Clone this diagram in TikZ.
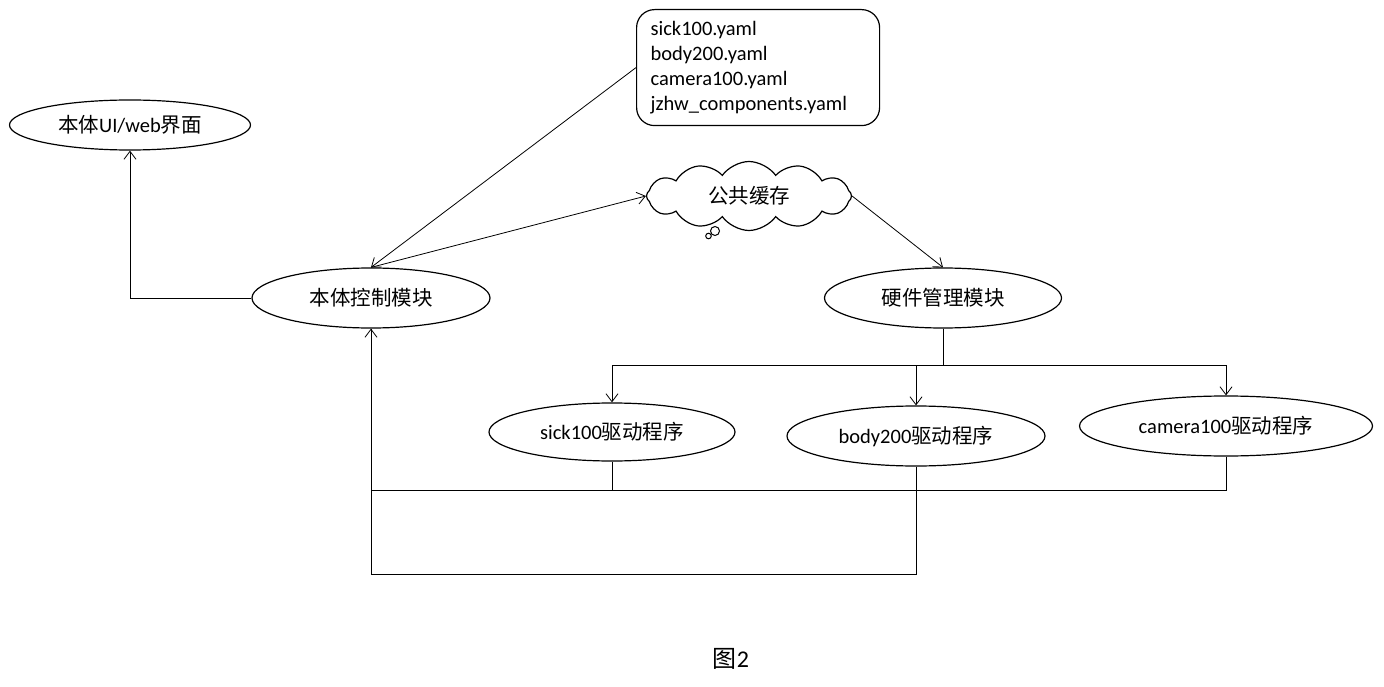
\documentclass[tikz,border=0pt]{standalone}
\usepackage{fontspec}
\setmainfont{Carlito}
\newfontfamily\cjk{Noto Sans CJK SC}
\usetikzlibrary{shapes.geometric,shapes.symbols,arrows.meta}
\newcommand{\zh}[1]{{\cjk #1}}

\begin{document}
\begin{tikzpicture}[x=1pt,y=-1pt,
  oval/.style={ellipse, draw, line width=1.2pt, inner sep=0pt,
               font=\fontsize{20.5}{24}\selectfont},
  conn/.style={draw, line width=0.8pt, -{Straight Barb[length=8pt,width=12pt]}},
  wire/.style={draw, line width=0.8pt}]
\useasboundingbox (0,0) rectangle (1384,687);

% modules
\node[oval, minimum width=241, minimum height=50] (ui)  at (130,125) {\zh{本体}UI/web\zh{界面}};
\node[oval, minimum width=238, minimum height=60] (ctl) at (371,298) {\zh{本体控制模块}};
\node[oval, minimum width=237, minimum height=60] (hw)  at (943,298) {\zh{硬件管理模块}};

% drivers
\node[oval, minimum width=246, minimum height=58] (sick) at (612,432) {sick100\zh{驱动程序}};
\node[oval, minimum width=258, minimum height=60] (body) at (916,436) {body200\zh{驱动程序}};
\node[oval, minimum width=293, minimum height=60] (cam)  at (1226,426) {camera100\zh{驱动程序}};

% configuration files
\node[draw, rounded corners=18pt, line width=1.2pt, anchor=north west,
      minimum width=240, minimum height=116, text width=215, inner xsep=14,
      align=left, font=\fontsize{20.5}{25}\selectfont] (yaml) at (636,9)
  {sick100.yaml\\body200.yaml\\camera100.yaml\\jzhw\_components.yaml};

% shared cache
\node[cloud, draw, line width=1.2pt, cloud puffs=12, cloud puff arc=110,
      aspect=3.2, minimum width=205, minimum height=54, inner xsep=0pt, inner ysep=8pt,
      font=\fontsize{20.5}{24}\selectfont] (cache) at (749,196) {\zh{公共缓存}};
\draw[line width=1pt] (715,231) circle (4.5);
\draw[line width=1pt] (708.5,236) circle (2.8);

% connectors
\draw[conn] (ctl.west) -| (ui.south);
\draw[conn] (yaml.west) -- (ctl.north);
\draw[conn] (ctl.north) -- (cache.west);
\draw[conn] (cache.east) -- (hw.north);

\draw[conn] (hw.south) -- ++(0,37) -| (sick.north);
\draw[conn] (hw.south) -- ++(0,37) -| (body.north);
\draw[conn] (hw.south) -- ++(0,37) -| (cam.north);

\coordinate (ret1) at (371,490);
\coordinate (ret2) at (371,574);
\draw[wire] (sick.south) |- (ret1);
\draw[wire] (cam.south) |- (ret1);
\draw[conn] (body.south) |- (ret2) -- (ctl.south);
\draw[wire] (ret1) -- (ctl.south);

% caption
\node[font=\fontsize{24}{28}\selectfont] (cap) at (731,659) {\zh{图}2};
\end{tikzpicture}
\end{document}
